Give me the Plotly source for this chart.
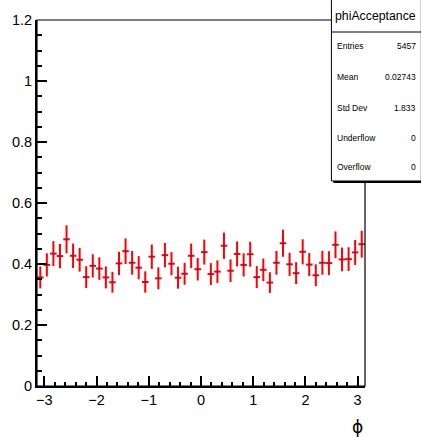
import numpy as np
import plotly.graph_objects as go

# ---- data ----
n_bins = 50
x_min, x_max = -np.pi, np.pi
acceptance = [0.356, 0.397, 0.434, 0.426, 0.481, 0.427, 0.414, 0.357, 0.394, 0.385,
              0.356, 0.340, 0.402, 0.442, 0.404, 0.388, 0.341, 0.424, 0.353, 0.429,
              0.401, 0.355, 0.368, 0.427, 0.383, 0.439, 0.367, 0.375, 0.460, 0.378,
              0.433, 0.397, 0.432, 0.357, 0.381, 0.339, 0.404, 0.468, 0.399, 0.370,
              0.440, 0.398, 0.363, 0.404, 0.403, 0.463, 0.415, 0.416, 0.438, 0.465]
errors = [0.036, 0.038, 0.041, 0.040, 0.046, 0.040, 0.039, 0.036, 0.038, 0.037,
          0.036, 0.034, 0.038, 0.042, 0.039, 0.038, 0.035, 0.040, 0.036, 0.040,
          0.038, 0.036, 0.036, 0.040, 0.037, 0.041, 0.036, 0.037, 0.043, 0.037,
          0.041, 0.038, 0.041, 0.036, 0.037, 0.034, 0.039, 0.044, 0.038, 0.036,
          0.041, 0.038, 0.036, 0.039, 0.039, 0.044, 0.039, 0.039, 0.041, 0.044]
stats_title = "phiAcceptance"
stats_labels = ["Entries", "Mean", "Std Dev", "Underflow", "Overflow"]
stats_values = ["5457", "0.02743", "1.833", "0", "0"]
x_title = "ϕ"

edges = np.linspace(x_min, x_max, n_bins + 1)
centers = 0.5 * (edges[:-1] + edges[1:])
half_w = 0.5 * (edges[1] - edges[0])

W, H = 421, 437
L, R, T, B = 33, 56, 20, 51
PW, PH = W - L - R, H - T - B
FONT = "Liberation Sans, Arial, sans-serif"


def px(X):
    return (X - L) / PW


def py(Y):
    return (H - B - Y) / PH


fig = go.Figure()
fig.add_trace(go.Scatter(
    x=centers, y=acceptance, mode="markers",
    marker=dict(size=2, color="rgb(70,40,170)"),
    error_y=dict(type="data", array=errors, visible=True, color="#ff0000",
                 thickness=2, width=0),
    error_x=dict(type="constant", value=half_w, visible=True, color="#ff0000",
                 thickness=2, width=0),
    showlegend=False, hoverinfo="x+y",
))

axis_common = dict(showgrid=False, zeroline=False, showline=True,
                   linecolor="black", linewidth=2, ticks="inside",
                   tickcolor="black", tickwidth=1.5, ticklen=10,
                   tickfont=dict(family=FONT, size=14.5, color="black"))
fig.update_xaxes(range=[x_min, x_max], tick0=0, dtick=1,
                 minor=dict(ticks="inside", dtick=0.2, ticklen=4,
                            tickcolor="black", tickwidth=1.5),
                 **axis_common)
fig.update_yaxes(range=[0, 1.2], tick0=0, dtick=0.2,
                 minor=dict(ticks="inside", dtick=0.05, ticklen=5,
                            tickcolor="black", tickwidth=1.5),
                 **axis_common)

shapes = [
    dict(type="rect", xref="paper", yref="paper", x0=0, x1=1, y0=0, y1=1,
         line=dict(color="black", width=1.2), layer="above"),
    dict(type="rect", xref="paper", yref="paper",
         x0=px(333), x1=px(424), y0=py(183), y1=py(2),
         fillcolor="black", line=dict(width=0), layer="above"),
    dict(type="rect", xref="paper", yref="paper",
         x0=px(331), x1=px(422), y0=py(181), y1=py(-1),
         fillcolor="white", line=dict(color="black", width=1), layer="above"),
    dict(type="line", xref="paper", yref="paper",
         x0=px(331), x1=px(422), y0=py(32), y1=py(32),
         line=dict(color="black", width=1), layer="above"),
]

annotations = [
    dict(text=stats_title, xref="paper", yref="paper", x=px(376), y=py(16),
         xanchor="center", yanchor="middle", showarrow=False,
         font=dict(family=FONT, size=12.3, color="black")),
    dict(text=x_title, xref="paper", yref="paper", x=px(357), y=py(427),
         xanchor="center", yanchor="middle", showarrow=False,
         font=dict(family="DejaVu Sans, sans-serif", size=17, color="black")),
]
row_y = [46, 77, 108, 138, 167]
for lab, val, yy in zip(stats_labels, stats_values, row_y):
    annotations.append(dict(text=lab, xref="paper", yref="paper", x=px(335), y=py(yy),
                            xanchor="left", yanchor="middle", showarrow=False,
                            font=dict(family=FONT, size=8.5, color="black")))
    annotations.append(dict(text=val, xref="paper", yref="paper", x=px(419), y=py(yy),
                            xanchor="right", yanchor="middle", showarrow=False,
                            font=dict(family=FONT, size=8.5, color="black")))

fig.update_layout(
    width=W, height=H,
    margin=dict(l=L, r=R, t=T, b=B, pad=0),
    paper_bgcolor="white", plot_bgcolor="white",
    shapes=shapes, annotations=annotations,
    font=dict(family=FONT, color="black"),
)

fig.write_html("out.html", config={"displayModeBar": False},
               post_script="document.body.style.margin='0';document.body.style.padding='0';document.body.style.overflow='hidden';")
